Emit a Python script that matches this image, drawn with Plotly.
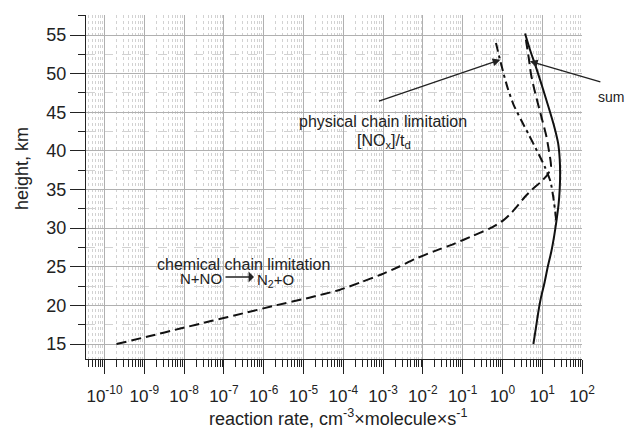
import plotly.graph_objects as go

# ---- data ----
height_chem = [15, 16, 17, 18, 19, 20, 21, 22, 23, 24, 25, 26, 27, 28, 29, 30, 31, 32, 33, 34,
               35, 36, 37, 38, 40, 42, 44, 46, 48, 50, 52, 54, 54.8]
rate_chem = [2.0e-10, 1.3e-9, 8e-9, 5e-8, 3.2e-7, 2e-6, 1.4e-5, 8e-5, 2.8e-4, 9e-4,
             2.5e-3, 6.3e-3, 1.9e-2, 6.3e-2, 0.18, 0.5, 1.05, 1.7, 2.5, 3.6,
             5.6, 9.3, 14.0, 16.6, 14.8, 12.6, 10.0, 7.9, 6.3, 5.2, 4.6, 4.0, 3.8]

height_phys = [31, 32, 34, 36, 38, 40, 42, 44, 46, 48, 50, 52, 54.5]
rate_phys = [22.4, 21.4, 19.0, 16.2, 11.5, 7.4, 4.7, 2.95, 1.9, 1.38, 1.07, 0.85, 0.65]

height_sum = [15, 17, 19, 21, 23, 25, 27, 29, 31, 33, 35, 37, 39, 41, 43, 45, 47, 49, 51, 53, 55.2]
rate_sum = [6.0, 6.9, 7.9, 9.3, 11.5, 13.8, 17.0, 20.0, 22.9, 25.7, 27.5, 28.2, 27.5, 25.1,
            20.4, 15.8, 12.0, 9.1, 6.8, 5.0, 3.7]

x_exponents = [-10, -9, -8, -7, -6, -5, -4, -3, -2, -1, 0, 1, 2]
x_tick_vals = [10.0 ** e for e in x_exponents]
x_tick_text = ["10<sup>%d</sup>" % e for e in x_exponents]
x_minor_vals = [k * 10.0 ** e for e in range(-11, 2) for k in range(2, 10)]
y_tick_vals = [15, 20, 25, 30, 35, 40, 45, 50, 55]

FONT = "Liberation Sans, Arial, sans-serif"
W, H = 625, 430
ML, MR, MT, MB = 86, 43, 15, 71
PW, PH = W - ML - MR, H - MT - MB


def px(x):
    return (x - ML) / PW


def py(y):
    return (H - MB - y) / PH


fig = go.Figure()
fig.add_trace(go.Scatter(x=rate_chem, y=height_chem, mode="lines",
                         line=dict(color="#111", width=2, dash="10px,5px"),
                         line_shape="spline", line_smoothing=0.6, showlegend=False))
fig.add_trace(go.Scatter(x=rate_phys, y=height_phys, mode="lines",
                         line=dict(color="#111", width=2, dash="9px,4px,3px,4px"),
                         line_shape="spline", line_smoothing=0.6, showlegend=False))
fig.add_trace(go.Scatter(x=rate_sum, y=height_sum, mode="lines",
                         line=dict(color="#111", width=2),
                         line_shape="spline", line_smoothing=0.6, showlegend=False))

anns = []
tf = dict(family=FONT, size=16, color="#222")
anns.append(dict(xref="paper", yref="paper", x=px(383), y=py(121), text="physical chain limitation",
                 showarrow=False, font=tf, xanchor="center", yanchor="middle"))
anns.append(dict(xref="paper", yref="paper", x=px(384), y=py(141), text="[NO<sub>x</sub>]/t<sub>d</sub>",
                 showarrow=False, font=tf, xanchor="center", yanchor="middle"))
anns.append(dict(xref="paper", yref="paper", x=px(243), y=py(264), text="chemical chain limitation",
                 showarrow=False, font=tf, xanchor="center", yanchor="middle"))
anns.append(dict(xref="paper", yref="paper", x=px(224), y=py(278), text="N+NO",
                 showarrow=False, font=dict(family=FONT, size=15, color="#222"),
                 xanchor="right", yanchor="middle"))
anns.append(dict(xref="paper", yref="paper", x=px(255), y=py(280), text="N<sub>2</sub>+O",
                 showarrow=False, font=dict(family=FONT, size=15, color="#222"),
                 xanchor="left", yanchor="middle"))
anns.append(dict(xref="paper", yref="paper", x=px(254), y=py(277), text="", showarrow=True,
                 ax=-30, ay=0, arrowhead=1, arrowsize=1.4, arrowwidth=1.3, arrowcolor="#222"))
anns.append(dict(xref="paper", yref="paper", x=px(596), y=py(97), text="sum",
                 showarrow=False, font=dict(family=FONT, size=14, color="#222"),
                 xanchor="left", yanchor="middle"))
# arrows pointing to curves
anns.append(dict(xref="x", yref="y", x=-0.05, y=51.8, text="", showarrow=True,
                 ax=-123, ay=42, arrowhead=2, arrowsize=1.2, arrowwidth=1.3, arrowcolor="#222"))
anns.append(dict(xref="x", yref="y", x=0.69, y=51.6, text="", showarrow=True,
                 ax=72, ay=21, arrowhead=2, arrowsize=1.2, arrowwidth=1.3, arrowcolor="#222"))
# axis titles
anns.append(dict(xref="paper", yref="paper", x=px(22), y=py(169), text="height, km", textangle=-90,
                 showarrow=False, font=dict(family=FONT, size=18, color="#222"),
                 xanchor="center", yanchor="middle"))
anns.append(dict(xref="paper", yref="paper", x=px(338), y=py(417),
                 text="reaction rate, cm<sup>-3</sup>×molecule×s<sup>-1</sup>",
                 showarrow=False, font=dict(family=FONT, size=18, color="#222"),
                 xanchor="center", yanchor="middle"))

fig.update_layout(
    width=W, height=H,
    margin=dict(l=ML, r=MR, t=MT, b=MB, pad=0),
    paper_bgcolor="white", plot_bgcolor="white",
    font=dict(family=FONT, size=17, color="#222"),
    annotations=anns,
    showlegend=False,
)
fig.update_xaxes(
    type="log", range=[-10.465, 2.0],
    tickmode="array", tickvals=x_tick_vals, ticktext=x_tick_text, tickangle=0,
    ticks="outside", ticklen=14, tickwidth=1, tickcolor="#222", ticklabelstandoff=7,
    showline=True, linecolor="#222", linewidth=1.2, mirror=False,
    showgrid=True, gridcolor="#b0b0b0", gridwidth=1,
    zeroline=False,
    tickfont=dict(family=FONT, size=17, color="#222"),
    minor=dict(tickvals=x_minor_vals, ticks="outside", ticklen=7, tickwidth=1, tickcolor="#222",
               showgrid=True, gridcolor="#d2d2d2", gridwidth=1, griddash="dot"),
)
fig.update_yaxes(
    range=[13.06, 57.59],
    tickmode="array", tickvals=y_tick_vals,
    ticks="outside", ticklen=15, tickwidth=1, tickcolor="#222",
    showline=True, linecolor="#222", linewidth=1.2, mirror=False,
    showgrid=True, gridcolor="#b0b0b0", gridwidth=1,
    zeroline=False,
    tickfont=dict(family=FONT, size=18, color="#222"),
    minor=dict(dtick=2.5, tick0=0, ticks="outside", ticklen=7, tickwidth=1, tickcolor="#222",
               showgrid=True, gridcolor="#d2d2d2", gridwidth=1, griddash="dash"),
)

fig.write_html("out.html", config={"displayModeBar": False},
               post_script="document.body.style.margin='0';document.body.style.overflow='hidden';")
